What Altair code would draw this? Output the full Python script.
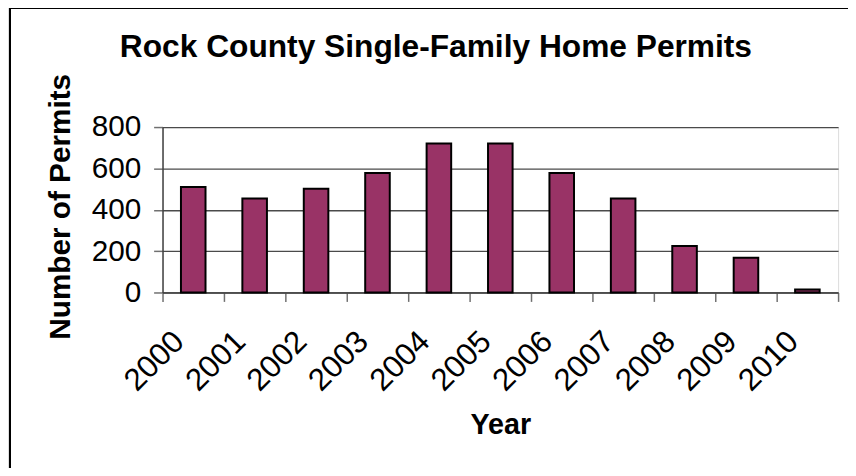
import altair as alt
import pandas as pd

years = ["2000", "2001", "2002", "2003", "2004", "2005", "2006", "2007", "2008", "2009", "2010"]
permits = [510, 454, 502, 578, 721, 721, 578, 454, 225, 168, 14]
y_ticks = [0, 200, 400, 600, 800]

df = pd.DataFrame({"Year": years, "Permits": permits})

FONT = "Liberation Sans"

bars = alt.Chart(df).mark_bar(
    color="#993366", stroke="#000000", strokeWidth=2,
    width=alt.RelativeBandSize(0.4)
).encode(
    x=alt.X("Year:N", sort=years,
            scale=alt.Scale(paddingInner=0, paddingOuter=0),
            axis=alt.Axis(title="Year", labelAngle=315, labelAlign="right",
                          labelBaseline="alphabetic", labelOffset=-8,
                          labelPadding=42, tickSize=9, tickBand="extent",
                          labelOverlap=False, labelFontSize=31.5, labelFont=FONT,
                          labelColor="#000000", domainColor="#404040",
                          domainWidth=1.5, tickColor="#707070", tickWidth=1.5,
                          titleFont=FONT, titleFontSize=29, titleFontWeight="bold",
                          titleColor="#000000", titleX=341, titleY=142,
                          titleAlign="center", titleBaseline="alphabetic",
                          grid=False)),
    y=alt.Y("Permits:Q",
            scale=alt.Scale(domain=[0, 800], nice=False),
            axis=alt.Axis(title="Number of Permits", values=y_ticks,
                          tickSize=9, labelPadding=13, labelFontSize=30,
                          labelFont=FONT, labelColor="#000000",
                          domainColor="#404040", domainWidth=1.5,
                          tickColor="#707070", tickWidth=1.5,
                          gridColor="#4a4a4a", gridWidth=1.3,
                          titleFont=FONT, titleFontSize=30, titleFontWeight="bold",
                          titleColor="#000000", titleAngle=270, titleX=-94,
                          titleY=80, titleAlign="center",
                          titleBaseline="alphabetic")),
)

frame_top = alt.Chart(df).mark_rule(color="#000000", strokeWidth=2).encode(
    x=alt.value(-154), x2=alt.value(700), y=alt.value(-120.5)
)
frame_left = alt.Chart(df).mark_rule(color="#000000", strokeWidth=2).encode(
    x=alt.value(-154), y=alt.value(-121.5), y2=alt.value(360)
)

chart = alt.layer(bars, frame_top, frame_left).properties(
    width=682, height=167,
    title=alt.TitleParams(
        "Rock County Single-Family Home Permits",
        font=FONT, fontSize=32, fontWeight="bold", color="#000000",
        anchor="middle", frame="group", dx=-65, dy=94, baseline="alphabetic",
        offset=10,
    ),
    padding={"left": 156, "top": 118, "right": 10, "bottom": 175},
    autosize=alt.AutoSizeParams(type="none"),
).configure_view(
    fill="#C0C0C0", stroke="#808080", strokeWidth=1.5
).configure(background="#FFFFFF")

chart.save("out.html", embed_options={"renderer": "svg", "actions": False})
